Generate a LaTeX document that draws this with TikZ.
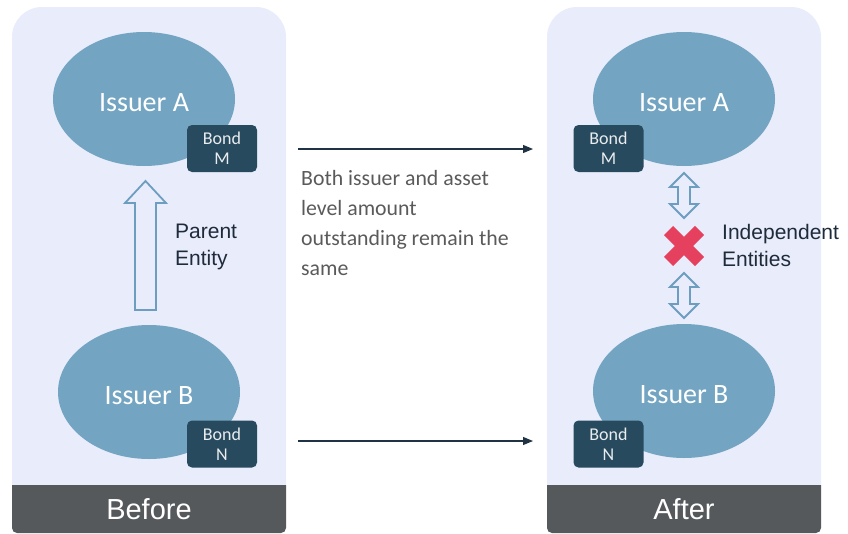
\documentclass[tikz,border=0pt]{standalone}
\usepackage{fontspec}
\setmainfont{Carlito}
\newfontfamily\labelfont{Liberation Sans}
\usepackage{xcolor}
\usepackage{tikz}
\usetikzlibrary{arrows.meta}
\usetikzlibrary{calc}
\usetikzlibrary{positioning}
\usetikzlibrary{shapes.geometric}

\definecolor{panelbg}{HTML}{E9ECFB}
\definecolor{issuerfill}{HTML}{73A5C2}
\definecolor{bondfill}{HTML}{284A5E}
\definecolor{barfill}{HTML}{55595C}
\definecolor{hollowline}{HTML}{6E9EBF}
\definecolor{crossred}{HTML}{E5415E}
\definecolor{labeltext}{HTML}{1E2B3A}
\definecolor{notetext}{HTML}{5A5A5A}
\definecolor{flowline}{HTML}{1F3344}

\begin{document}
\begin{tikzpicture}[x=1pt, y=-1pt,
    issuer/.style={ellipse, fill=issuerfill, minimum width=182pt,
      minimum height=134pt, text=white, text height=25pt, text depth=0pt,
      font=\fontsize{28}{30}\selectfont},
    bond/.style={rectangle, rounded corners=5pt, fill=bondfill,
      minimum width=70pt, minimum height=47pt, inner sep=0pt,
      text=white!90!bondfill, align=center, font=\fontsize{18}{20}\selectfont},
    hollow/.style={draw=hollowline, line width=1.8pt, line join=miter},
    stage/.style={text=white, font=\labelfont\fontsize{29}{30}\selectfont},
    sidelabel/.style={anchor=north west, inner sep=0pt, align=left,
      text=labeltext, font=\labelfont\fontsize{21}{27}\selectfont},
    flow/.style={draw=flowline, line width=1.1pt,
      -{Triangle[length=10pt, width=8pt]}}]

    \useasboundingbox (0, 0) rectangle (848, 533);

    % panels with their bars
    \foreach \px/\stagename/\stagetext in {12/before/Before, 547/after/After} {
      \fill [panelbg] (\px, 485) [rounded corners=30pt] -- (\px, 7)
      -- (\px + 274, 7) [sharp corners] -- (\px + 274, 485) -- cycle;
      \fill [barfill] (\px, 485) [rounded corners=5pt] -- (\px, 533)
      -- (\px + 274, 533) [sharp corners] -- (\px + 274, 485) -- cycle;
      \node [stage] (\stagename) at (\px + 137, 509) {\stagetext};
    }

    % before
    \node [issuer] (issuerA) at (144, 99) {Issuer A};
    \node [issuer] (issuerB) at (149, 392) {Issuer B};
    \node [bond] (bondM) at (222, 148.5) {Bond\\M};
    \node [bond] (bondN) at (222, 444) {Bond\\N};

    \coordinate (parentTail) at (145.5, 310);
    \draw [hollow] (parentTail) ++(-10.5, 0) -- ++(0, -107) -- ++(-10, 0)
    -- ++(20.5, -22) -- ++(20.5, 22) -- ++(-10, 0) -- ++(0, 107) -- cycle;
    \node [sidelabel] (parent) at (175, 224) {Parent\\Entity};

    % after
    \node [issuer] (issuerA2) at (684, 99) {Issuer A};
    \node [issuer] (issuerB2) at (684, 391) {Issuer B};
    \node [bond] (bondM2) at (608.5, 148.5) {Bond\\M};
    \node [bond] (bondN2) at (608.5, 444) {Bond\\N};

    \foreach \y in {173, 273} {
      \draw [hollow] (684, \y) -- ++(14, 14) -- ++(-8, 0) -- ++(0, 17)
      -- ++(8, 0) -- ++(-14, 14) -- ++(-14, -14) -- ++(8, 0)
      -- ++(0, -17) -- ++(-8, 0) -- cycle;
    }

    \coordinate (cross) at (684, 246);
    \draw [crossred, line width=13pt]
    ($(cross) + (-15.5, -15.5)$) -- ($(cross) + (15.5, 15.5)$)
    ($(cross) + (-15.5, 15.5)$) -- ($(cross) + (15.5, -15.5)$);
    \node [sidelabel] (independent) at (722, 224) {Independent\\Entities};

    % between the panels
    \coordinate (topStart) at (298, 149);
    \coordinate (topEnd) at (533, 149);
    \coordinate (lowStart) at (298, 441);
    \coordinate (lowEnd) at (533, 441);
    \draw [flow] (topStart) -- (topEnd);
    \draw [flow] (lowStart) -- (lowEnd);

    \node [anchor=north west, inner sep=0pt, align=left, text=notetext,
    font=\fontsize{21.8}{30}\selectfont] (note) at (301, 170)
    {Both issuer and asset\\level amount\\outstanding remain the\\same};

  \end{tikzpicture}
\end{document}
